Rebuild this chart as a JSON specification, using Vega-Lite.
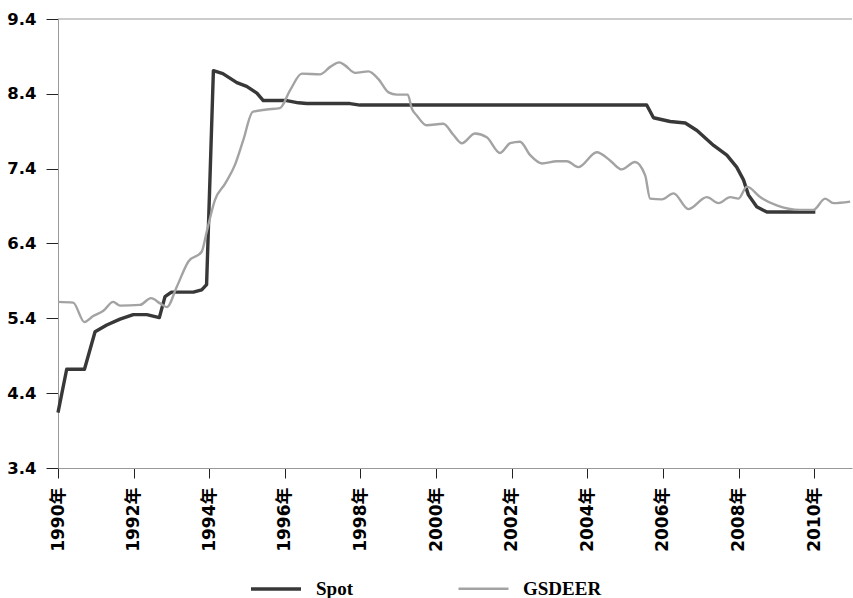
{
  "$schema": "https://vega.github.io/schema/vega-lite/v6.json",
  "width": 794,
  "height": 449,
  "autosize": {"type": "none"},
  "padding": {"left": 58, "top": 19, "right": 1, "bottom": 130},
  "background": "white",
  "config": {
    "view": {"stroke": null},
    "legend": {
      "orient": "none",
      "legendX": 191,
      "legendY": 543,
      "direction": "horizontal",
      "symbolType": "stroke",
      "symbolSize": 2500,
      "labelFont": "Liberation Serif",
      "labelFontSize": 19,
      "labelFontWeight": "bold",
      "labelColor": "black",
      "labelOffset": 13,
      "columnPadding": 100,
      "padding": 0
    }
  },
  "datasets": {
    "spot": [
      {"year": 1990.0, "value": 4.14}, {"year": 1990.23, "value": 4.72}, {"year": 1990.70, "value": 4.72},
      {"year": 1990.98, "value": 5.22}, {"year": 1991.29, "value": 5.31}, {"year": 1991.64, "value": 5.39},
      {"year": 1991.99, "value": 5.45}, {"year": 1992.35, "value": 5.45}, {"year": 1992.68, "value": 5.41},
      {"year": 1992.83, "value": 5.69}, {"year": 1993.0, "value": 5.75}, {"year": 1993.58, "value": 5.75},
      {"year": 1993.80, "value": 5.78}, {"year": 1993.93, "value": 5.85}, {"year": 1994.11, "value": 8.71},
      {"year": 1994.36, "value": 8.67}, {"year": 1994.73, "value": 8.55}, {"year": 1994.99, "value": 8.50},
      {"year": 1995.26, "value": 8.41}, {"year": 1995.43, "value": 8.31}, {"year": 1996.05, "value": 8.31},
      {"year": 1996.36, "value": 8.28}, {"year": 1996.58, "value": 8.27}, {"year": 1997.72, "value": 8.27},
      {"year": 1997.99, "value": 8.25}, {"year": 2005.57, "value": 8.25}, {"year": 2005.75, "value": 8.08},
      {"year": 2006.19, "value": 8.03}, {"year": 2006.59, "value": 8.01}, {"year": 2006.90, "value": 7.91},
      {"year": 2007.34, "value": 7.71}, {"year": 2007.69, "value": 7.58}, {"year": 2007.95, "value": 7.42},
      {"year": 2008.13, "value": 7.25}, {"year": 2008.26, "value": 7.05}, {"year": 2008.48, "value": 6.89},
      {"year": 2008.75, "value": 6.82}, {"year": 2010.03, "value": 6.82}
    ],
    "gsdeer": [
      {"year": 1990.0, "value": 5.62}, {"year": 1990.40, "value": 5.61}, {"year": 1990.70, "value": 5.35},
      {"year": 1990.93, "value": 5.43}, {"year": 1991.2, "value": 5.50}, {"year": 1991.46, "value": 5.62},
      {"year": 1991.64, "value": 5.57}, {"year": 1992.17, "value": 5.58}, {"year": 1992.46, "value": 5.67},
      {"year": 1992.70, "value": 5.60}, {"year": 1992.88, "value": 5.55}, {"year": 1993.14, "value": 5.82},
      {"year": 1993.45, "value": 6.16}, {"year": 1993.80, "value": 6.29}, {"year": 1993.93, "value": 6.55},
      {"year": 1994.15, "value": 6.98}, {"year": 1994.42, "value": 7.20}, {"year": 1994.68, "value": 7.45},
      {"year": 1994.90, "value": 7.78}, {"year": 1995.15, "value": 8.16}, {"year": 1995.52, "value": 8.19},
      {"year": 1995.87, "value": 8.21}, {"year": 1996.14, "value": 8.45}, {"year": 1996.45, "value": 8.67},
      {"year": 1996.93, "value": 8.66}, {"year": 1997.20, "value": 8.76}, {"year": 1997.44, "value": 8.82},
      {"year": 1997.59, "value": 8.78}, {"year": 1997.86, "value": 8.68}, {"year": 1998.21, "value": 8.70},
      {"year": 1998.47, "value": 8.60}, {"year": 1998.74, "value": 8.42}, {"year": 1998.96, "value": 8.39},
      {"year": 1999.25, "value": 8.39}, {"year": 1999.36, "value": 8.20}, {"year": 1999.49, "value": 8.11},
      {"year": 1999.75, "value": 7.98}, {"year": 2000.19, "value": 8.00}, {"year": 2000.46, "value": 7.85},
      {"year": 2000.68, "value": 7.74}, {"year": 2001.03, "value": 7.87}, {"year": 2001.34, "value": 7.82},
      {"year": 2001.69, "value": 7.61}, {"year": 2001.96, "value": 7.74}, {"year": 2002.22, "value": 7.76},
      {"year": 2002.49, "value": 7.58}, {"year": 2002.80, "value": 7.47}, {"year": 2003.19, "value": 7.50},
      {"year": 2003.46, "value": 7.50}, {"year": 2003.76, "value": 7.42}, {"year": 2004.25, "value": 7.62},
      {"year": 2004.60, "value": 7.51}, {"year": 2004.91, "value": 7.39}, {"year": 2005.26, "value": 7.49},
      {"year": 2005.53, "value": 7.31}, {"year": 2005.66, "value": 7.00}, {"year": 2005.97, "value": 6.99},
      {"year": 2006.28, "value": 7.07}, {"year": 2006.67, "value": 6.86}, {"year": 2007.16, "value": 7.02},
      {"year": 2007.47, "value": 6.94}, {"year": 2007.78, "value": 7.02}, {"year": 2008.0, "value": 7.00},
      {"year": 2008.22, "value": 7.16}, {"year": 2008.57, "value": 7.02}, {"year": 2009.01, "value": 6.91},
      {"year": 2009.63, "value": 6.85}, {"year": 2009.98, "value": 6.85}, {"year": 2010.29, "value": 7.00},
      {"year": 2010.51, "value": 6.94}, {"year": 2010.95, "value": 6.96}
    ],
    "top": [{"value": 9.4}]
  },
  "layer": [
    {
      "data": {"name": "spot"},
      "transform": [{"calculate": "'Spot'", "as": "series"}],
      "mark": {"type": "line", "interpolate": "linear", "strokeJoin": "round"},
      "encoding": {
        "x": {
          "field": "year", "type": "quantitative",
          "scale": {"domain": [1990, 2011], "nice": false, "zero": false},
          "axis": {
            "title": null, "grid": false,
            "values": [1990, 1992, 1994, 1996, 1998, 2000, 2002, 2004, 2006, 2008, 2010],
            "labelExpr": "datum.value + '年'",
            "labelAngle": -90, "labelAlign": "right", "labelBaseline": "middle",
            "labelFont": "DejaVu Sans, Noto Sans CJK SC", "labelFontSize": 17, "labelFontWeight": "bold",
            "labelColor": "black", "labelPadding": 9, "tickSize": 10, "tickColor": "#222",
            "domainColor": "#999", "labelFlush": false, "labelOverlap": false
          }
        },
        "y": {
          "field": "value", "type": "quantitative",
          "scale": {"domain": [3.4, 9.4], "nice": false, "zero": false},
          "axis": {
            "title": null, "grid": false,
            "values": [3.4, 4.4, 5.4, 6.4, 7.4, 8.4, 9.4], "format": ".1f",
            "labelFont": "DejaVu Sans", "labelFontSize": 16.5, "labelFontWeight": "bold",
            "labelColor": "black", "labelPadding": 10, "tickSize": 12, "tickColor": "#222",
            "domainColor": "#999", "labelFlush": false, "labelOverlap": false
          }
        },
        "color": {
          "field": "series", "type": "nominal",
          "scale": {"domain": ["Spot", "GSDEER"], "range": ["#383838", "#a3a3a3"]},
          "legend": {"title": null}
        },
        "strokeWidth": {
          "field": "series", "type": "nominal",
          "scale": {"domain": ["Spot", "GSDEER"], "range": [3.4, 2.4]},
          "legend": {"title": null}
        }
      }
    },
    {
      "data": {"name": "gsdeer"},
      "transform": [{"calculate": "'GSDEER'", "as": "series"}],
      "mark": {"type": "line", "interpolate": "monotone"},
      "encoding": {
        "x": {"field": "year", "type": "quantitative"},
        "y": {"field": "value", "type": "quantitative"},
        "color": {"field": "series", "type": "nominal", "legend": {"title": null}},
        "strokeWidth": {"field": "series", "type": "nominal", "legend": {"title": null}}
      }
    },
    {
      "data": {"name": "top"},
      "mark": {"type": "rule", "color": "#999", "strokeWidth": 1},
      "encoding": {"y": {"field": "value", "type": "quantitative"}}
    }
  ]
}
